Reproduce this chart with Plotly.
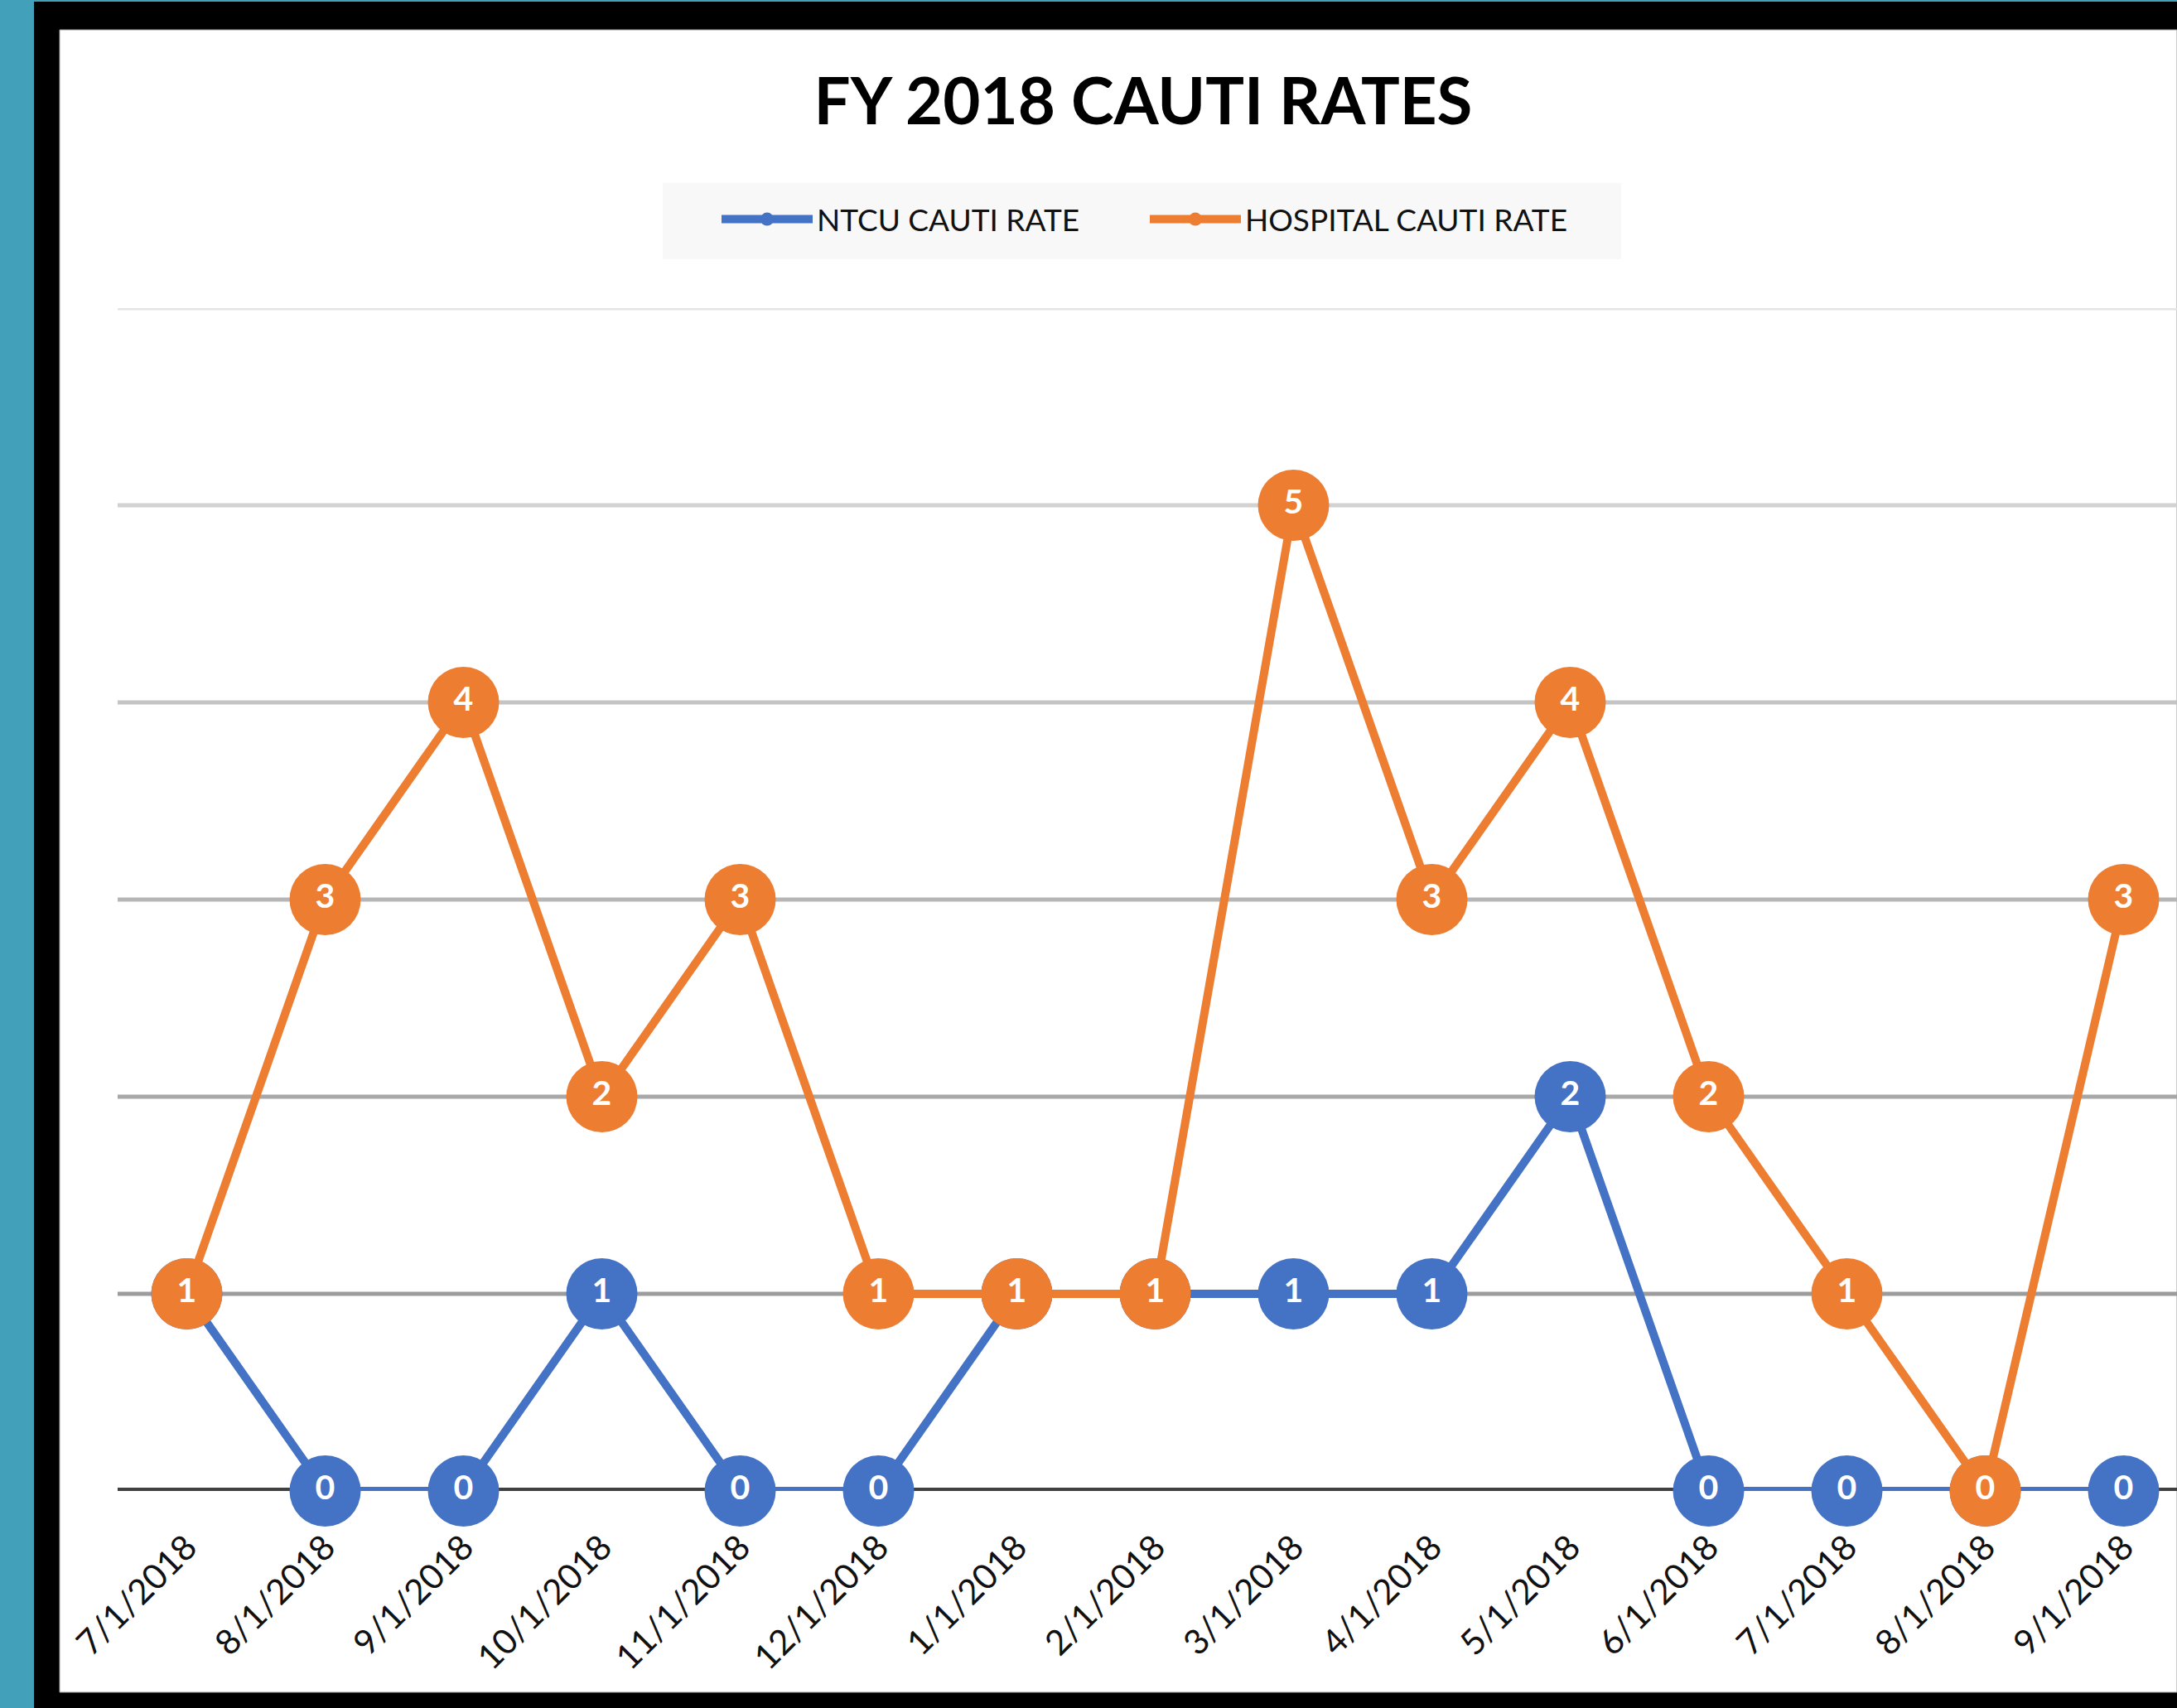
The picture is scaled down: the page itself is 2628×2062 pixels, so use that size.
import plotly.graph_objects as go

dates = ["7/1/2018", "8/1/2018", "9/1/2018", "10/1/2018", "11/1/2018", "12/1/2018",
         "1/1/2018", "2/1/2018", "3/1/2018", "4/1/2018", "5/1/2018", "6/1/2018",
         "7/1/2018", "8/1/2018", "9/1/2018"]
ntcu = [1, 0, 0, 1, 0, 0, 1, 1, 1, 1, 2, 0, 0, 0, 0]
hospital = [1, 3, 4, 2, 3, 1, 1, 1, 5, 3, 4, 2, 1, 0, 3]
series_names = ["NTCU CAUTI RATE", "HOSPITAL CAUTI RATE"]
grid_vals = [1, 2, 3, 4, 5, 6]
grid_colors = ["#9c9c9c", "#a8a8a8", "#b6b6b6", "#c4c4c4", "#d2d2d2", "#e4e4e4"]

BLUE = "#4472C4"
ORANGE = "#ED7D31"
W, H = 2628, 2062
ML, MR, MT, MB = 142, 0, 372, 262
PW, PH = W - ML - MR, H - MT - MB


def px(X):
    return (X - ML) / PW


def py(Y):
    return (H - MB - Y) / PH


xs = list(range(len(dates)))
label_font = dict(family="Lato, Open Sans, sans-serif", size=41, color="white", weight="bold")

fig = go.Figure()
for vals, name, col in [(ntcu, series_names[0], BLUE), (hospital, series_names[1], ORANGE)]:
    fig.add_trace(go.Scatter(
        x=xs, y=vals, name=name, mode="lines+markers+text",
        line=dict(color=col, width=10), marker=dict(color=col, size=86),
        text=[str(v) for v in vals], textposition="middle center", textfont=label_font,
        cliponaxis=False, showlegend=False, legendgroup=name))
# legend entries (thicker line, small marker like the original legend)
for name, col in [(series_names[0], BLUE), (series_names[1], ORANGE)]:
    fig.add_trace(go.Scatter(
        x=[None], y=[None], name=name, mode="lines+markers",
        line=dict(color=col, width=12), marker=dict(color=col, size=16),
        showlegend=True, legendgroup=name))

shapes = [
    dict(type="rect", xref="paper", yref="paper", x0=px(41), x1=1.0, y0=py(H + 2), y1=py(2),
         fillcolor="black", line=dict(width=0), layer="below"),
    dict(type="rect", xref="paper", yref="paper", x0=px(72), x1=1.0, y0=py(2043), y1=py(36),
         fillcolor="white", line=dict(color="#9a9a9a", width=1), layer="below"),
    # legend background box
    dict(type="rect", xref="paper", yref="paper", x0=px(800), x1=px(1957), y0=py(313), y1=py(221),
         fillcolor="#F8F8F8", line=dict(width=0), layer="below"),
]
for gv, gc in zip(grid_vals, grid_colors):
    shapes.append(dict(type="line", xref="paper", yref="y", x0=0, x1=1, y0=gv, y1=gv,
                       line=dict(color=gc, width=5), layer="below"))
shapes.append(dict(type="line", xref="paper", yref="y", x0=0, x1=1, y0=0, y1=0,
                   line=dict(color="#404040", width=8), layer="below"))

fig.update_layout(
    width=W, height=H,
    margin=dict(l=ML, r=MR, t=MT, b=MB, pad=0),
    paper_bgcolor="#43A0BA",
    plot_bgcolor="rgba(0,0,0,0)",
    shapes=shapes,
    title=dict(text="<b>FY 2018 CAUTI RATES</b>", x=1380 / W, xanchor="center",
               y=1 - 123 / H, yanchor="middle",
               font=dict(family="Lato, sans-serif", size=78, color="black")),
    legend=dict(orientation="h", x=px(866), xanchor="left", y=py(234), yanchor="top",
                bgcolor="rgba(0,0,0,0)", borderwidth=0,
                font=dict(family="Lato, sans-serif", size=37, color="#111111"),
                itemwidth=110, itemsizing="trace", entrywidth=392,
                tracegroupgap=0),
    xaxis=dict(range=[-0.5, (W - 225.5) / 167.0], tickmode="array", tickvals=xs, ticktext=dates,
               tickangle=-45, showgrid=False, zeroline=False, showline=False, ticks="",
               ticklabelstandoff=34,
               tickfont=dict(family="Lato, Open Sans, sans-serif", size=42, color="#111111"),
               fixedrange=True),
    yaxis=dict(range=[0, 6], showgrid=False, zeroline=False, showline=False,
               showticklabels=False, ticks="", fixedrange=True),
)

fig.write_html(
    "out.html",
    config={"displayModeBar": False},
    post_script="document.body.style.margin='0px';document.body.style.overflow='hidden';"
                "document.body.style.background='#43A0BA';",
)
